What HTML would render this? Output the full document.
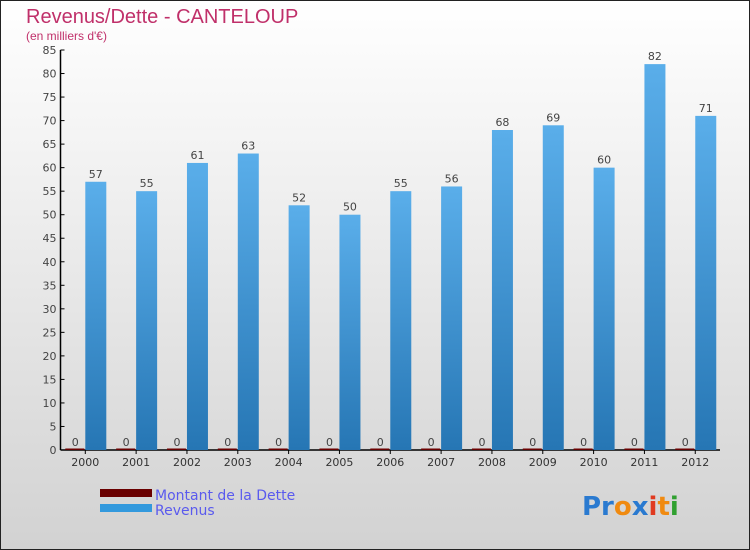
<!DOCTYPE html>
<html><head><meta charset="utf-8"><style>
body{margin:0;}
svg{display:block;font-family:"DejaVu Sans","Liberation Sans",sans-serif;}
</style></head><body>
<svg id="chart" width="750" height="550">
<defs>
<linearGradient id="bg" x1="0" y1="0" x2="0" y2="1"><stop offset="0" stop-color="#ffffff"/><stop offset="1" stop-color="#d2d2d2"/></linearGradient>
<linearGradient id="bar" x1="0" y1="0" x2="0" y2="1"><stop offset="0" stop-color="#5aaeea"/><stop offset="1" stop-color="#2676b4"/></linearGradient>
</defs>
<rect x="0.5" y="0.5" width="749" height="549" fill="url(#bg)" stroke="#222"/>
<text x="26" y="23" font-size="20" fill="#c0306a" style="font-family:'Liberation Sans',sans-serif">Revenus/Dette - CANTELOUP</text>
<text x="26" y="40" font-size="12" fill="#c0306a" style="font-family:'Liberation Sans',sans-serif">(en milliers d'€)</text>
<g id="plot"></g>
<g>
<rect x="100" y="489" width="52" height="8" fill="#6a0000"/>
<text x="155" y="500" font-size="14" fill="#5a5aee">Montant de la Dette</text>
<rect x="100" y="504" width="52" height="8" fill="#3399dd"/>
<text x="155" y="515" font-size="14" fill="#5a5aee">Revenus</text>
</g>
<text x="582" y="515" font-size="26" font-weight="bold"><tspan fill="#2a7ad0">Pr</tspan><tspan fill="#f08a10">o</tspan><tspan fill="#2a7ad0">x</tspan><tspan fill="#e03a20">i</tspan><tspan fill="#f08a10">t</tspan><tspan fill="#30a030">i</tspan></text>
</svg>
<script>
const years=["2000","2001","2002","2003","2004","2005","2006","2007","2008","2009","2010","2011","2012"];
const revenus=[57,55,61,63,52,50,55,56,68,69,60,82,71];
const dette=[0,0,0,0,0,0,0,0,0,0,0,0,0];
const yTicks=[0,5,10,15,20,25,30,35,40,45,50,55,60,65,70,75,80,85];
const NS="http://www.w3.org/2000/svg";
const g=document.getElementById('plot');
const y0=450,yTop=50,yMax=85,x0=60.5;
const ys=v=>y0-v*(y0-yTop)/yMax;
const xc=i=>85.3+50.83*i;
function mk(t,a,txt){const e=document.createElementNS(NS,t);for(const k in a)e.setAttribute(k,a[k]);if(txt!==undefined)e.textContent=txt;g.appendChild(e);return e;}
let ax=mk('line',{x1:x0,y1:yTop,x2:x0,y2:y0,stroke:'#000','stroke-width':1.5});


let bx=mk('line',{x1:x0,y1:y0,x2:720,y2:y0,stroke:'#000','stroke-width':1.5});


yTicks.forEach(v=>{
 const y=ys(v);
 mk('line',{x1:x0,y1:y,x2:x0+4,y2:y,stroke:'#000'});
 const t=mk('text',{x:x0-4,y:y+4,'font-size':11,fill:'#444','text-anchor':'end'},v);
 
 
});
years.forEach((yr,i)=>{
 const c=xc(i);
 mk('line',{x1:c,y1:y0,x2:c,y2:y0+4,stroke:'#000'});
 const t=mk('text',{x:c,y:y0+16,'font-size':11,fill:'#333','text-anchor':'middle'},yr);
 
 
 const db=mk('rect',{x:c-20,y:ys(dette[i])-1.5,width:19,height:Math.max(1.5,y0-ys(dette[i])+1.5),fill:'#6a0000'});
 
 
 const dl=mk('text',{x:c-10,y:ys(dette[i])-4,'font-size':11,fill:'#444','text-anchor':'middle'},dette[i]);
 
 
 const rb=mk('rect',{x:c,y:ys(revenus[i]),width:21,height:y0-ys(revenus[i]),fill:'url(#bar)'});
 
 
 const rl=mk('text',{x:c+10.5,y:ys(revenus[i])-4,'font-size':11,fill:'#444','text-anchor':'middle'},revenus[i]);
 
 
});
</script>
</body></html>
